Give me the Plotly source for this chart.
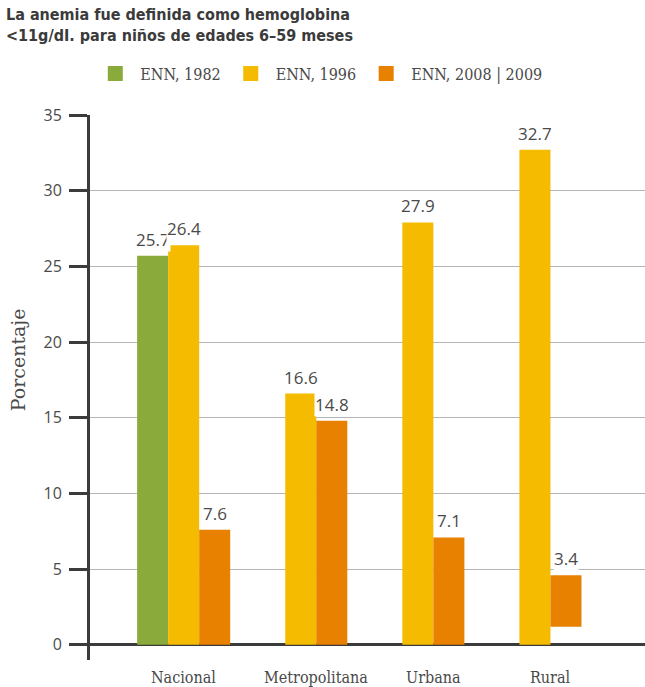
import plotly.graph_objects as go

# Anemia prevalence (%) by area and survey round
categories = ["Nacional", "Metropolitana", "Urbana", "Rural"]
series_names = ["ENN, 1982", "ENN, 1996", "ENN, 2008 | 2009"]
enn_1982 = [25.7, None, None, None]
enn_1996 = [26.4, 16.6, 27.9, 32.7]
enn_2008 = [7.6, 14.8, 7.1, 3.4]
enn_2008_base = [0, 0, 0, 1.2]

y_ticks = [0, 5, 10, 15, 20, 25, 30, 35]
title_text = ("<b>La anemia fue definida como hemoglobina<br>"
              "<11g/dI. para niños de edades 6–59 meses</b>")
y_title = "Porcentaje"

colors = ["#8aab3b", "#f4bb00", "#e88000"]
dark = "#3b3b3b"
text_col = "#4a4a4a"
slab = "DejaVu Serif Condensed"
sans = "Open Sans"

W, H = 645, 687
M_L, M_R, M_T, M_B = 90, 0, 115, 27
x_range = [-0.80, 3.94]
bargap = 0.205

fig = go.Figure()
series = [enn_1982, enn_1996, enn_2008]
bases = [None, None, enn_2008_base]
for name, vals, base, col in zip(series_names, series, bases, colors):
    fig.add_trace(go.Bar(
        x=categories, y=vals, base=base, name=name, legendgroup=name,
        showlegend=False,
        marker=dict(color=col, line=dict(width=0)),
    ))
# larger square swatches for the legend
for name, col in zip(series_names, colors):
    fig.add_trace(go.Scatter(
        x=[None], y=[None], mode="markers", name=name, legendgroup=name,
        marker=dict(symbol="square", size=15, color=col),
    ))

# value labels on a white box, centred over each bar
plot_w = W - M_L - M_R
px_per_cat = plot_w / (x_range[1] - x_range[0])
bar_px = px_per_cat * (1 - bargap) / len(series)
offsets = [(i - (len(series) - 1) / 2) * bar_px for i in range(len(series))]
annotations = []
for vals, base, shift in zip(series, bases, offsets):
    for j, v in enumerate(vals):
        if v is None:
            continue
        b = base[j] if base else 0
        annotations.append(dict(
            x=categories[j], y=b + v, xref="x", yref="y",
            text=f"{v:.1f}", showarrow=False, xanchor="center",
            yanchor="bottom", xshift=shift, yshift=4,
            bgcolor="white", borderpad=0,
            font=dict(family=sans, size=17, color=text_col),
        ))

# category labels centred under the bars that carry data
for j, c in enumerate(categories):
    used = [off for s, off in zip(series, offsets) if s[j] is not None]
    annotations.append(dict(
        x=c, y=0, xref="x", yref="paper", yshift=-17,
        xshift=sum(used) / len(used),
        text=c, showarrow=False, xanchor="center", yanchor="middle",
        font=dict(family=slab, size=16, color=text_col),
    ))

annotations.append(dict(
    x=0, y=0.55, xref="paper", yref="paper", xshift=-72,
    text=y_title, textangle=-90, showarrow=False,
    xanchor="center", yanchor="middle",
    font=dict(family="DejaVu Serif", size=19, color=text_col),
))

# two-line heading in the top-left corner
annotations.append(dict(
    x=0, y=1, xref="paper", yref="paper", xshift=-M_L + 4, yshift=M_T - 3,
    text=title_text, showarrow=False, xanchor="left", yanchor="top",
    align="left",
    font=dict(family="DejaVu Sans Condensed", size=16, color=dark),
))

fig.update_layout(
    width=W, height=H,
    margin=dict(l=M_L, r=M_R, t=M_T, b=M_B),
    paper_bgcolor="white", plot_bgcolor="white",
    barmode="group", bargap=bargap, bargroupgap=0,
    legend=dict(orientation="h", xref="container", yref="container",
                x=0.14, y=0.893, xanchor="left", yanchor="middle",
                itemwidth=40, itemclick=False,
                font=dict(family=slab, size=16, color=text_col),
                traceorder="normal"),
    annotations=annotations,
    showlegend=True,
)
fig.update_xaxes(range=x_range, showticklabels=False, showgrid=False,
                 ticks="", showline=False, zeroline=False)
fig.update_yaxes(range=[-1, 35], tickvals=y_ticks, showgrid=True,
                 gridcolor="#b5b5b5", gridwidth=1,
                 showline=True, linecolor=dark, linewidth=3,
                 ticks="outside", ticklen=18, tickwidth=3, tickcolor=dark,
                 ticklabelstandoff=4,
                 tickfont=dict(family=sans, size=16, color=text_col),
                 zeroline=True, zerolinecolor=dark, zerolinewidth=3)

fig.write_html("out.html")
